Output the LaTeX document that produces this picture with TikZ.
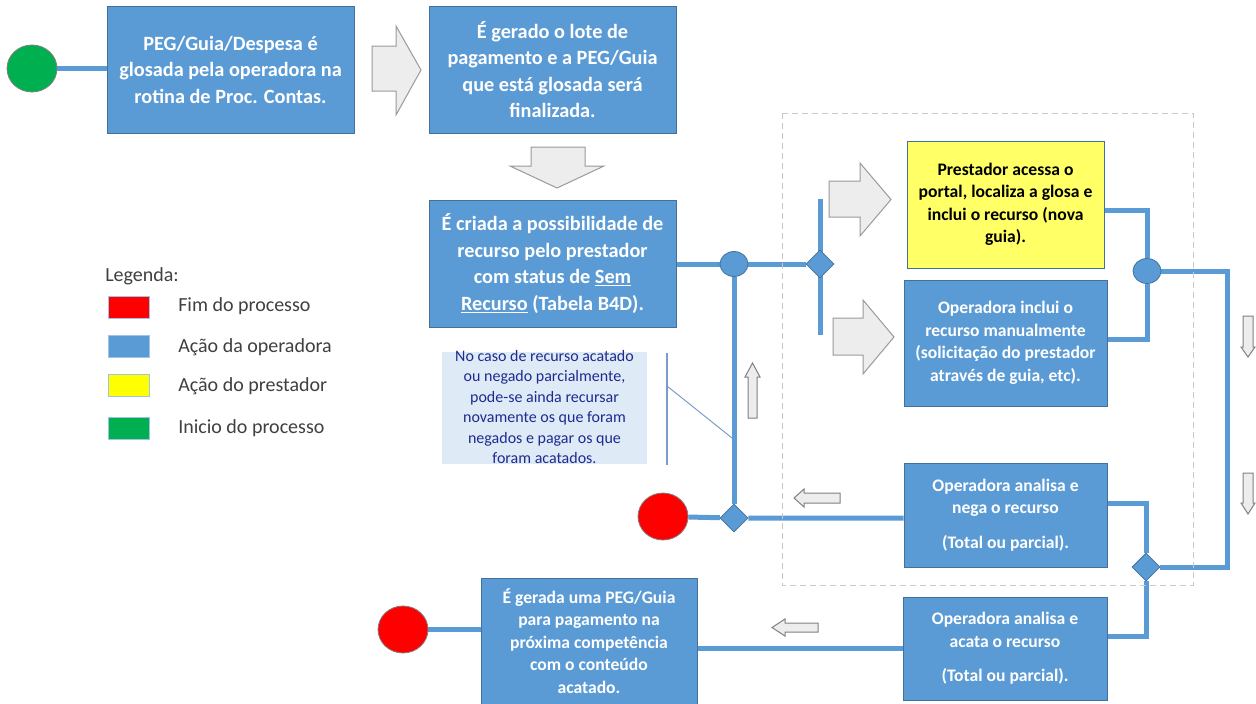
\documentclass[tikz,border=0pt]{standalone}
\usepackage{fontspec}
\setmainfont{Carlito}
\usetikzlibrary{shapes.geometric,backgrounds}
\newdimen\px \px=0.75pt
\definecolor{opblue}{HTML}{5B9BD5}
\definecolor{opborder}{HTML}{41719C}
\definecolor{prestyellow}{HTML}{FFFF66}
\definecolor{legyellow}{HTML}{FFFF00}
\definecolor{arrowfill}{HTML}{EDEDED}
\definecolor{arrowdraw}{HTML}{9A9A9A}
\definecolor{notefill}{HTML}{DEEBF7}
\definecolor{notetext}{HTML}{1F2A8F}
\definecolor{legtext}{HTML}{404040}
\definecolor{startgreen}{HTML}{00B050}
\definecolor{endred}{HTML}{FF0000}
\definecolor{dashgray}{HTML}{C8C8C8}
\definecolor{calloutc}{HTML}{7A9CC6}
\definecolor{legborder}{HTML}{9DC3E6}
\tikzset{
  opbox/.style={draw=opborder, line width=1\px, inner sep=0pt, align=center, fill=opblue, text=white},
  presbox/.style={draw=opborder, line width=1\px, inner sep=0pt, align=center, fill=prestyellow, text=black},
  bigtext/.style={font=\bfseries\fontsize{15.2}{19.9}\selectfont},
  smalltext/.style={font=\bfseries\fontsize{13.2}{16.9}\selectfont},
  notebox/.style={fill=notefill, inner sep=0pt},
  notetxt/.style={align=center, text=notetext, font=\fontsize{12}{15.4}\selectfont, inner sep=0pt},
  flow/.style={draw=opblue, line width=5\px},
  jcirc/.style={ellipse, fill=opblue, draw=opborder, line width=0.8\px, minimum width=28\px, minimum height=25\px, inner sep=0pt},
  jdiam/.style={diamond, fill=opblue, draw=opborder, line width=0.8\px, minimum width=28\px, minimum height=28\px, inner sep=0pt},
  term/.style={ellipse, draw=gray, line width=0.8\px, minimum width=50\px, minimum height=47\px, inner sep=0pt},
  bigarrow/.style={fill=arrowfill, draw=arrowdraw, line width=1\px, line join=miter},
  smallarrow/.style={fill=arrowfill, draw=gray, line width=1\px},
  legsq/.style={draw=legborder, line width=1\px, minimum width=41\px, minimum height=22\px, inner sep=0pt},
  legtxt/.style={anchor=west, text=legtext, font=\fontsize{15}{18}\selectfont, inner sep=0pt},
}
\begin{document}
\begin{tikzpicture}[x=0.75pt,y=-0.75pt]
\useasboundingbox (0,0) rectangle (1256,703);

% dashed frame
\draw[dashgray, line width=1\px, dash pattern=on 6\px off 4\px] (782,113) rectangle (1193,585);

% boxes
\node[opbox, bigtext, minimum width=247\px, minimum height=127\px] (b1) at (230.5,69.5)
  {PEG/Guia/Despesa é\\glosada pela operadora na\\rotina de Proc. Contas.};
\node[opbox, bigtext, minimum width=247\px, minimum height=127\px] (b2) at (552.5,69.5)
  {É gerado o lote de\\pagamento e a PEG/Guia\\que está glosada será\\finalizada.};
\node[opbox, bigtext, minimum width=247\px, minimum height=127\px] (b3) at (552.5,263.5)
  {É criada a possibilidade de\\recurso pelo prestador\\com status de \underline{Sem}\\\underline{Recurso} (Tabela B4D).};
\node[presbox, smalltext, minimum width=197\px, minimum height=127\px] (yel) at (1005.5,204.5)
  {Prestador acessa o\\portal, localiza a glosa e\\inclui o recurso (nova\\guia).};
\node[opbox, smalltext, minimum width=203\px, minimum height=126\px] (opinc) at (1005.5,343)
  {Operadora inclui o\\recurso manualmente\\(solicitação do prestador\\através de guia, etc).};
\node[opbox, smalltext, minimum width=203\px, minimum height=104\px] (nega) at (1005.5,515)
  {Operadora analisa e\\nega o recurso\\[12\px](Total ou parcial).};
\node[opbox, smalltext, minimum width=204\px, minimum height=103\px] (acata) at (1005,648.5)
  {Operadora analisa e\\acata o recurso\\[12\px](Total ou parcial).};
\node[opbox, smalltext, minimum width=216\px, minimum height=126\px] (pegf) at (589,641)
  {É gerada uma PEG/Guia\\para pagamento na\\próxima competência\\com o conteúdo\\acatado.};

% note
\node[notebox, minimum width=205\px, minimum height=112\px] (note) at (544.5,408) {};
\node[notetxt] (notet) at (544.5,407)
  {No caso de recurso acatado\\ou negado parcialmente,\\pode-se ainda recursar\\novamente os que foram\\negados e pagar os que\\foram acatados.};

% terminals
\node[term, fill=startgreen] (start) at (32,68.5) {};
\node[term, fill=endred] (end1) at (663,516.5) {};
\node[term, fill=endred] (end2) at (403,629.5) {};

% junctions
\node[jcirc] (j1) at (734,264) {};
\node[jdiam] (d1) at (820,264) {};
\node[jdiam] (d2) at (734,518) {};
\node[jcirc] (j2) at (1147,271) {};
\node[jdiam] (d3) at (1146,567) {};

\coordinate (bartop) at (820,199);
\coordinate (barbot) at (820,335);
\coordinate (loopA) at (1227,271);
\coordinate (loopB) at (1227,567);
\coordinate (calltop) at (667,353);
\coordinate (callbot) at (667,465);
\coordinate (callmid) at (667,386);
\coordinate (calltip) at (732,438);

\begin{scope}[on background layer]
\fill[white] (0,0) rectangle (1256,703);
\draw[flow] (start) -- (b1.west |- start);
\draw[flow] (b3.east |- j1) -- (j1) -- (d1);
\draw[flow] (bartop) -- (barbot);
\draw[flow] (j1) -- (d2);
\draw[flow] (end1) -- (d2) -- (nega.west |- d2);
\draw[flow] (yel.east |- 0,210) -| (j2);
\draw[flow] (opinc.east |- 0,339) -| (j2);
\draw[flow] (j2) -- (loopA) -- (loopB) -- (d3);
\draw[flow] (nega.east |- 0,503) -| (d3);
\draw[flow] (d3) |- (acata.east |- 0,636);
\draw[flow] (acata.west |- 0,648) -- (pegf.east |- 0,648);
\draw[flow] (pegf.west |- end2) -- (end2);
\end{scope}

% callout
\draw[calloutc, line width=1.2\px] (calltop) -- (callbot);
\draw[calloutc, line width=1\px] (callmid) -- (calltip);

% big gray arrows
\draw[bigarrow] (372,46) -- (396,46) -- (396,26) -- (421,70) -- (396,115) -- (396,91) -- (372,91) -- cycle;
\draw[bigarrow] (531,147) -- (585,147) -- (585,166) -- (604,166) -- (557,188) -- (510,166) -- (531,166) -- cycle;
\draw[bigarrow] (829,181) -- (860,181) -- (860,163) -- (891,199.5) -- (860,236) -- (860,217) -- (829,217) -- cycle;
\draw[bigarrow] (833,318) -- (863,318) -- (863,300) -- (894,337) -- (863,374) -- (863,355) -- (833,355) -- cycle;

% small arrows
\draw[smallarrow] (748,418) -- (748,377) -- (745,377) -- (752.5,363) -- (760,377) -- (757,377) -- (757,418) -- cycle;
\draw[smallarrow] (1243,316) -- (1253,316) -- (1253,347) -- (1255,347) -- (1248,357) -- (1241,347) -- (1243,347) -- cycle;
\draw[smallarrow] (1243,473) -- (1253,473) -- (1253,503) -- (1255,503) -- (1248,514) -- (1241,503) -- (1243,503) -- cycle;
\draw[smallarrow] (840,493) -- (804,493) -- (804,489) -- (794,498) -- (804,507) -- (804,503) -- (840,503) -- cycle;
\draw[smallarrow] (818,623) -- (785,623) -- (785,619) -- (772,627.5) -- (785,636) -- (785,632) -- (818,632) -- cycle;

% legend
\node[legtxt] (legt) at (105,276) {Legenda:};
\node[legsq, fill=endred] (lq1) at (128.5,307.5) {};
\node[legsq, fill=opblue] (lq2) at (128.5,346.5) {};
\node[legsq, fill=legyellow] (lq3) at (128.5,385.5) {};
\node[legsq, fill=startgreen] (lq4) at (128.5,428) {};
\node[legtxt] (l1) at (178,306) {Fim do processo};
\node[legtxt] (l2) at (178,347) {Ação da operadora};
\node[legtxt] (l3) at (178,386) {Ação do prestador};
\node[legtxt] (l4) at (178,428) {Inicio do processo};
\end{tikzpicture}
\end{document}
